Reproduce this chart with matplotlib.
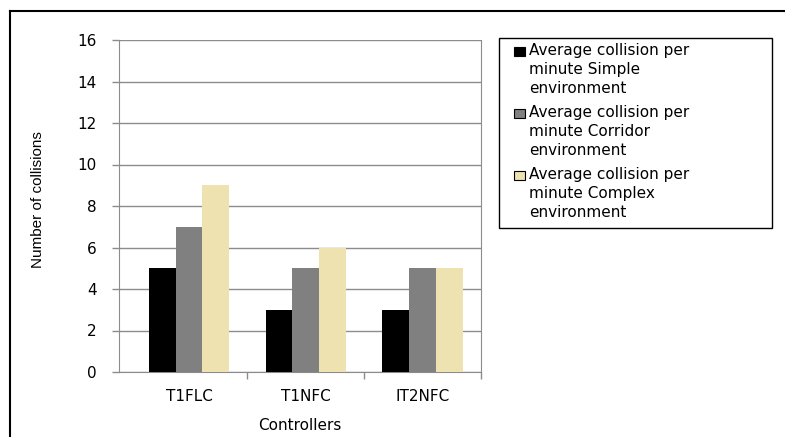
import matplotlib
matplotlib.use("Agg")
import matplotlib.pyplot as plt
import numpy as np
from matplotlib.lines import Line2D
from matplotlib.patches import Rectangle

plt.rcParams["font.family"] = ["DejaVu Sans"]

controllers = ["T1FLC", "T1NFC", "IT2NFC"]
simple = [5, 3, 3]
corridor = [7, 5, 5]
complex_env = [9, 6, 5]
series_labels = [
    "Average collision per\nminute Simple\nenvironment",
    "Average collision per\nminute Corridor\nenvironment",
    "Average collision per\nminute Complex\nenvironment",
]
colors = ["#000000", "#808080", "#EEE3B0"]
grid_gray = "#8c8c8c"

W, H = 785, 437
fig = plt.figure(figsize=(W / 100, H / 100), dpi=100)


def fx(px):
    return px / W


def fy(px):
    return 1 - px / H


# chart frame (only top and left edges fall inside the image)
fig.add_artist(Line2D([fx(10), 1], [fy(11)] * 2, color="black", lw=1.5))
fig.add_artist(Line2D([fx(10)] * 2, [0, fy(11)], color="black", lw=1.5))

ax = fig.add_axes([fx(119), fy(372), fx(362), 332 / H])

x = np.arange(len(controllers))
bw = 0.23
for i, vals in enumerate([simple, corridor, complex_env]):
    ax.bar(x + (i - 1) * bw, vals, width=bw, color=colors[i], zorder=3)

ax.set_xlim(-0.6, 2.5)
ax.set_ylim(0, 16)
ax.set_yticks(range(0, 17, 2))
ax.yaxis.grid(True, color=grid_gray, lw=1, zorder=0)
ax.set_xticks(x)
ax.set_xticklabels(controllers)
ax.set_xticks([0.5, 1.5, 2.5], minor=True)
ax.tick_params(axis="x", which="major", length=0, pad=12, labelsize=11)
ax.tick_params(axis="x", which="minor", length=5, color=grid_gray, width=1)
ax.tick_params(axis="y", length=5, color=grid_gray, width=1, labelsize=11, pad=11)

for side in ["left", "right", "bottom"]:
    ax.spines[side].set_color(grid_gray)
ax.spines["top"].set_visible(False)

ax.set_xlabel("Controllers", fontsize=11, labelpad=10)
ax.set_ylabel("Number of collisions", fontsize=11, family="Liberation Sans")
ax.yaxis.set_label_coords(-0.204, 0.518)

# legend box, markers sit on the first line of each entry
fig.add_artist(Rectangle((fx(499), fy(228)), fx(273), 190 / H, transform=fig.transFigure,
                         facecolor="white", edgecolor="black", lw=1))
for i, lab in enumerate(series_labels):
    top = 43 + i * 62
    fig.add_artist(Rectangle((fx(514), fy(top + 13)), fx(11), 9 / H,
                             transform=fig.transFigure, facecolor=colors[i],
                             edgecolor="black", lw=0.8))
    fig.text(fx(529), fy(top), lab, ha="left", va="top", fontsize=11,
             linespacing=1.35)

fig.savefig("out.png", dpi=100)
